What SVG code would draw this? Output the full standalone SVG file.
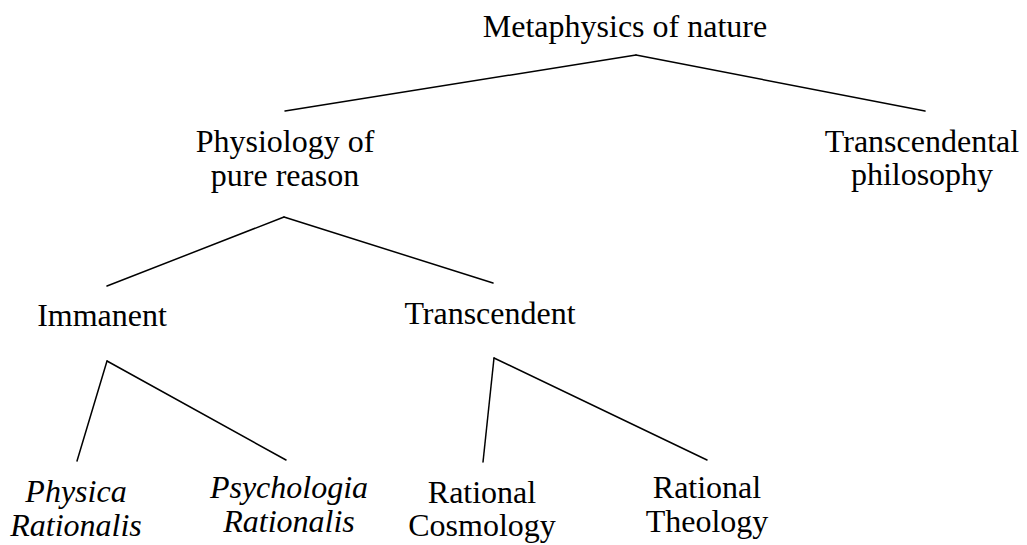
<svg xmlns="http://www.w3.org/2000/svg" width="1027" height="545" viewBox="0 0 1027 545">
<style>
text{font-family:"Liberation Serif","Times New Roman",Times,serif;font-size:32px;fill:#000;text-anchor:middle}
.it{font-style:italic}
.c line{stroke:#000;stroke-width:1.5;stroke-linecap:round}
</style>
<rect width="1027" height="545" fill="#fff"/>
<g id="connectors" class="c">
<line x1="636" y1="55" x2="285" y2="111"/>
<line x1="636" y1="55" x2="925" y2="111"/>
<line x1="284" y1="217" x2="107" y2="286"/>
<line x1="284" y1="217" x2="493" y2="283"/>
<line x1="107" y1="361" x2="77" y2="461"/>
<line x1="107" y1="361" x2="286" y2="460"/>
<line x1="494" y1="358" x2="483" y2="462"/>
<line x1="494" y1="358" x2="707" y2="460"/>
</g>
<g id="metaphysics"><text x="625" y="37">Metaphysics of nature</text></g>
<g id="physiology"><text x="285" y="152">Physiology of</text><text x="285" y="186">pure reason</text></g>
<g id="transcendental"><text x="922" y="152">Transcendental</text><text x="922" y="185">philosophy</text></g>
<g id="immanent"><text x="102" y="326">Immanent</text></g>
<g id="transcendent"><text x="490" y="324">Transcendent</text></g>
<g id="physica"><text class="it" x="76" y="502">Physica</text><text class="it" x="76" y="536">Rationalis</text></g>
<g id="psychologia"><text class="it" x="289" y="498">Psychologia</text><text class="it" x="289" y="532">Rationalis</text></g>
<g id="cosmology"><text x="482" y="503">Rational</text><text x="482" y="536">Cosmology</text></g>
<g id="theology"><text x="707" y="498">Rational</text><text x="707" y="532">Theology</text></g>
</svg>
